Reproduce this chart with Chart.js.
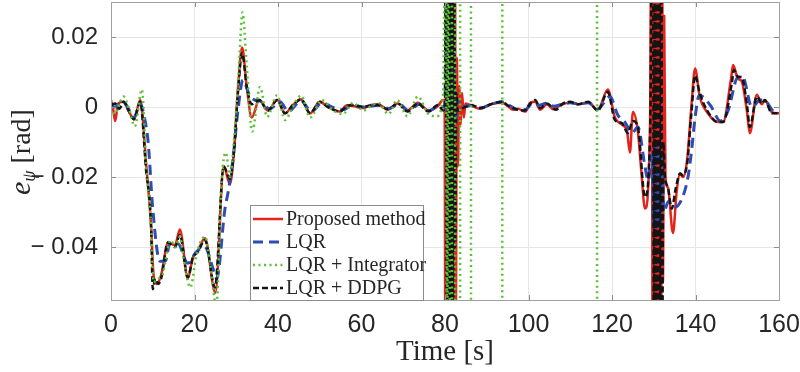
<!DOCTYPE html>
<html>
<head>
<meta charset="utf-8">
<script src="https://cdn.jsdelivr.net/npm/chart.js@4.4.0/dist/chart.umd.min.js"></script>
<style>
html, body { margin: 0; padding: 0; background: #fff; }
</style>
</head>
<body>
<canvas id="errChart" width="800" height="372"></canvas>
<script>
// axis ticks
const xTickValues = [0, 20, 40, 60, 80, 100, 120, 140, 160];
const xTickLabels = ['0', '20', '40', '60', '80', '100', '120', '140', '160'];
const yTickValues = [-0.04, -0.02, 0, 0.02];
const yTickLabels = ['\u2212 0.04', '\u2212 0.02', '0', '0.02'];

const seriesNames = ['Proposed method', 'LQR', 'LQR + Integrator', 'LQR + DDPG'];

// Proposed method (red)
const timeProposed = [
    0, 0.5, 1, 1.7, 3, 4.2, 5.5, 7, 8.4, 9.6, 10.2, 11, 12, 13.7, 15.3, 16.5, 18.4, 19.6, 20.8, 22.5,
    25, 27, 28.5, 29.5, 30.4, 31.4, 32.5, 33.7, 35.5, 37.6, 39.8, 41.7, 43.5, 45.5, 47.7, 50, 52, 54.8, 56.5, 58,
    60.4, 62, 64, 66.3, 68.7, 71, 73.5, 76, 78.3, 79.5, 79.9,
    80.1, 80.35, 80.6, 80.85, 81.1, 81.35, 81.6, 81.85, 82.1, 82.35, 82.6, 82.85, 83.1, 83.4, 83.7, 84.1, 84.5, 84.9,
    86.5, 88.4, 91, 93.7, 95, 96.3, 97.5, 99.2, 100.4, 101.6, 102.8, 104.4, 105.9, 107.5, 109.9, 111.9, 114.3, 116.6, 119, 120.7,
    122.4, 123.6, 124.3, 125, 126.2, 127, 127.9, 129.1,
    129.5, 129.75, 130, 130.25, 130.5, 130.75, 131, 131.25, 131.5, 131.75, 132, 132.2, 132.5, 132.8, 133.4, 134.6, 135.5, 136.3, 137, 138,
    139, 139.9, 141, 142.8, 145.4, 146.6, 148.5, 149, 150.2, 151, 152.3, 153, 154.7, 155.9, 156.6, 158.3, 160
];
const errProposed = [
    0.002, -0.0005, -0.004, 0.001, 0.0015, -0.001, -0.0035, 0.002, -0.016, -0.034, -0.048, -0.0505, -0.048, -0.0386, -0.0395, -0.035, -0.049, -0.043, -0.041, -0.0375,
    -0.053, -0.017, -0.022, -0.012, 0.005, 0.017, 0.006, -0.003, 0.002, -0.001, 0.002, -0.0018, 0.0005, 0.0022, -0.0018, 0.0015, 0, -0.0013, 0.0005, 0.0003,
    -0.0003, 0.0005, 0.0008, -0.0008, 0.001, -0.001, 0.0012, -0.001, 0.0003, 0.002, 0.002,
    -0.08, 0.09, -0.09, 0.09, -0.09, 0.09, -0.09, 0.08, -0.08, 0.06, -0.06, 0.014, -0.017, 0.006, -0.005, 0.004, -0.003, 0.001,
    0.0003, -0.0005, 0.0008, 0.0012, 0.0003, -0.0008, -0.0005, -0.0013, 0.0012, 0.0015, -0.0008, 0.0008, -0.0006, 0.0004, 0.0013, 0.0008, 0.0013, -0.0008, 0.005, -0.003,
    -0.005, -0.007, -0.013, -0.0014, -0.007, -0.018, -0.029, -0.006,
    0.08, -0.09, 0.09, -0.09, 0.09, -0.09, 0.09, -0.09, 0.09, -0.09, 0.07, -0.05, 0.026, -0.02, -0.023, -0.036, -0.024, -0.019, -0.02, -0.015,
    0, 0.011, 0.003, -0.0015, -0.0043, -0.0043, 0.008, 0.012, 0.008, 0.0075, -0.001, -0.0075, 0.0035, 0.0008, 0.002, -0.0015, -0.0018
];

// LQR (blue)
const timeLqr = [
    0, 1, 2, 3, 4.2, 5.5, 7, 8, 8.9, 10, 11.7, 13, 14.1, 16, 18.4, 20.4, 22.5, 24.4, 25.3, 27.3,
    28, 29.2, 30.4, 31.6, 33.3, 34.5, 36, 38, 40.5, 42.5, 45.5, 48, 50.5, 53, 55.5, 58, 60.5, 64, 66.5, 69,
    71.3, 73.8, 76.3, 78.5, 80,
    80.3, 80.6, 80.9, 81.2, 81.5, 81.8, 82.1, 82.4, 82.8, 84,
    86.5, 88.4, 91, 93.7, 95.5, 97.5, 99.5, 101, 102.5, 104.4, 106, 108, 110, 112, 114.3, 116.6, 119.5, 121.4, 123.1, 124.8,
    126.2, 127.9, 128.7, 129.6,
    129.9, 130.2, 130.5, 130.8, 131.1, 131.4, 131.7, 132, 132.4, 133.5, 135, 136.6, 138.2, 139.1, 139.9, 140.9, 143.5, 146, 147.8, 150.2,
    151.3, 153.5, 155.5, 157, 158.5, 160
];
const errLqr = [
    0.0005, 0, 0.001, 0.0015, -0.0005, -0.003, 0.001, -0.003, -0.01, -0.029, -0.044, -0.044, -0.039, -0.039, -0.0446, -0.0414, -0.04, -0.046, -0.049, -0.029,
    -0.0246, -0.015, -0.001, 0.0077, 0.003, 0.002, 0.0015, -0.0005, 0.0015, -0.0013, 0.0018, -0.0013, 0.0012, 0, -0.0008, 0.0005, 0, 0.0005, -0.0004, 0.0009,
    -0.001, 0.0008, -0.001, 0.0004, 0,
    0.05, -0.05, 0.05, -0.05, 0.04, -0.04, 0.02, -0.01, 0.002, 0,
    0.0005, -0.0003, 0.0008, 0.0015, 0.0004, -0.0008, -0.0006, 0.0012, 0.0005, 0.0011, 0.0002, 0.0008, 0.0012, 0.0009, 0.0012, -0.0005, 0.003, -0.0023, -0.0043, -0.0074,
    -0.0057, -0.017, -0.021, -0.013,
    -0.034, -0.01, -0.035, -0.01, -0.035, -0.012, -0.033, -0.015, -0.03, -0.027, -0.0286, -0.0266, -0.02, -0.012, -0.003, 0.0034, 0.0006, -0.004, -0.001, 0.0086,
    0.0086, 0, 0.002, 0.0015, -0.001, -0.0015
];

// LQR + Integrator (green)
const timeIntegrator = [
    0, 1, 2, 3, 4.2, 5.7, 7.4, 8.4, 9.6, 10.2, 11.3, 12.3, 13.5, 14.2, 15.5, 16.5, 17.5, 19, 20.5, 22.5,
    24, 25.2, 26.5, 27.5, 28.5, 29.5, 30.5, 31.5, 32.5, 33.8, 35.7, 37.4, 39.8, 41.7, 43.5, 45.5, 47.7, 50.5, 53, 55.5,
    58, 60.5, 62.5, 64, 66.5, 68.5, 71, 73.5, 76, 78, 79.5,
    80.2, 80.5, 80.8, 81.2, 81.65, 81.7, 82.4, 82.45, 83.6, 83.65, 86.2, 86.25, 93.7, 93.75, 116.4, 116.45, 160
];
const errIntegrator = [
    0, -0.002, 0.001, 0.003, 0, -0.0055, 0.005, -0.016, -0.034, -0.05, -0.049, -0.048, -0.041, -0.038, -0.04, -0.037, -0.044, -0.0515, -0.042, -0.037,
    -0.047, -0.057, -0.021, -0.013, -0.02, -0.009, 0.008, 0.027, 0.012, -0.007, 0.0057, -0.0028, 0.0034, -0.0037, 0, 0.0033, -0.003, 0.002, -0.0008, -0.002,
    0.0012, -0.001, 0.0005, 0.0012, -0.002, 0.002, -0.0026, 0.003, -0.002, -0.0026, 0.003,
    0.07, -0.09, 0.09, -0.09, -0.2, 0.2, 0.2, -0.2, -0.2, 0.2, 0.2, -0.2, -0.2, 0.2, 0.2, -0.2, -0.2
];

// LQR + DDPG (black)
const timeDdpg = [
    0, 1, 2, 3, 4.2, 5.5, 7, 8.4, 9.6, 10, 10.6, 11.3, 12, 13.7, 15.3, 16.5, 18.4, 19.6, 20.8, 22.5,
    24.9, 27, 28.5, 29.5, 30.4, 31.4, 32.5, 33.7, 35.5, 37.6, 39.8, 41.7, 43.5, 45.5, 47.7, 50, 52, 54.8, 56.5, 58,
    60.4, 62, 64, 66.3, 68.7, 71, 73.5, 76, 78.3, 79.6, 80,
    80.2, 80.45, 80.7, 80.95, 81.2, 81.45, 81.7, 81.95, 82.2, 82.45, 82.7, 83,
    84.8, 86.5, 88.4, 91, 93.7, 95, 96.3, 97.5, 99.2, 100.4, 101.6, 102.8, 104.4, 105.9, 106.5, 108.2, 109.9, 111.9, 114.3, 116.6,
    119, 120.7, 122.4, 123.8, 125, 126.2, 127.9, 129.1,
    129.8, 130.05, 130.3, 130.55, 130.8, 131.05, 131.3, 131.55, 131.8, 132.05, 132.3, 132.7, 133.4, 134.3, 135.3, 136.3, 137, 138, 139, 139.9,
    141, 142.8, 145.4, 146.6, 148.7, 149.2, 150.2, 151, 152.3, 153, 154.7, 155.9, 156.6, 158.3, 160
];
const errDdpg = [
    0.0005, 0.001, -0.0005, 0.0015, -0.001, -0.0035, 0.0015, -0.018, -0.034, -0.052, -0.049, -0.0505, -0.049, -0.0386, -0.04, -0.0365, -0.0486, -0.043, -0.0414, -0.038,
    -0.0515, -0.017, -0.0205, -0.012, 0.004, 0.0154, 0.006, 0.0008, 0.002, -0.001, 0.002, -0.0018, 0.0005, 0.0022, -0.0018, 0.0015, 0, -0.0013, 0.0003, 0.0006,
    0, 0.0004, 0.0006, -0.0006, 0.001, -0.0013, 0.001, -0.0013, 0.0006, -0.001, 0.001,
    0.07, -0.09, 0.09, -0.09, 0.09, -0.09, 0.08, -0.08, 0.06, -0.04, 0.004, -0.001,
    0, 0.0005, -0.0003, 0.0008, 0.0015, 0.0005, -0.0003, -0.0008, -0.001, 0.001, 0.002, -0.0003, 0.001, -0.0003, -0.0008, 0.001, 0.0015, 0.0008, 0.0015, -0.001,
    0.0043, -0.0037, -0.0046, -0.0074, -0.004, -0.0057, -0.0257, -0.0086,
    0.08, -0.09, 0.09, -0.09, 0.09, -0.09, 0.09, -0.08, 0.07, -0.07, -0.01, -0.02, -0.023, -0.029, -0.023, -0.019, -0.0195, -0.016, -0.002, 0.009,
    0.004, -0.001, -0.0043, -0.0043, 0.0068, 0.0106, 0.0086, 0.0086, 0.001, -0.0057, 0.003, 0.001, 0.002, -0.0018, -0.0017
];

function pairs(ts, vs) {
    return ts.map(function (t, i) { return { x: t, y: vs[i] }; });
}

// box, inner ticks and legend drawn like the matlab figure
const matlabFrame = {
    id: 'matlabFrame',
    afterDatasetsDraw: function (chart) {
        const ctx = chart.ctx;
        const a = chart.chartArea;
        const xs = chart.scales.x, ys = chart.scales.y;
        ctx.save();
        ctx.strokeStyle = '#8c8c8c';
        ctx.lineWidth = 1;
        ctx.beginPath();
        xTickValues.forEach(function (v) {
            const px = Math.round(xs.getPixelForValue(v)) + 0.5;
            ctx.moveTo(px, a.bottom); ctx.lineTo(px, a.bottom - 5);
            ctx.moveTo(px, a.top); ctx.lineTo(px, a.top + 5);
        });
        yTickValues.forEach(function (v) {
            const py = Math.round(ys.getPixelForValue(v)) + 0.5;
            ctx.moveTo(a.left, py); ctx.lineTo(a.left + 5, py);
            ctx.moveTo(a.right, py); ctx.lineTo(a.right - 5, py);
        });
        ctx.stroke();
        ctx.strokeStyle = '#a0a0a0';
        ctx.strokeRect(Math.round(a.left) + 0.5, Math.round(a.top) + 0.5,
            Math.round(a.right - a.left), Math.round(a.bottom - a.top));

        // legend
        const lx = 250, ly = 205, lw = 173, lh = 95;
        ctx.fillStyle = '#fff';
        ctx.fillRect(lx, ly, lw, lh);
        ctx.strokeStyle = '#8c8c8c';
        ctx.strokeRect(lx + 0.5, ly + 0.5, lw, lh);
        ctx.font = '20px "Liberation Serif", "Times New Roman", serif';
        ctx.textBaseline = 'middle';
        ctx.fillStyle = '#262626';
        chart.data.datasets.forEach(function (ds, i) {
            const ry = ly + 14 + i * 23;
            ctx.save();
            ctx.strokeStyle = ds.borderColor;
            ctx.lineWidth = ds.borderWidth;
            ctx.setLineDash(ds.borderDash || []);
            ctx.beginPath();
            ctx.moveTo(lx + 3, ry);
            ctx.lineTo(lx + 33, ry);
            ctx.stroke();
            ctx.restore();
            ctx.fillText(ds.label, lx + 36, ry + 1);
        });
        ctx.restore();
    },
    afterDraw: function (chart) {
        const ctx = chart.ctx;
        ctx.save();
        ctx.translate(30, 152);
        ctx.rotate(-Math.PI / 2);
        ctx.fillStyle = '#262626';
        ctx.textBaseline = 'alphabetic';
        ctx.textAlign = 'left';
        const fMain = 'italic 30px "Liberation Serif", serif';
        const fSub = 'italic 18px "Liberation Serif", serif';
        const fRad = '28px "Liberation Serif", serif';
        ctx.font = fMain; const wE = ctx.measureText('e').width;
        ctx.font = fSub; const wPsi = ctx.measureText('\u03c8').width;
        ctx.font = fRad; const wRad = ctx.measureText(' [rad]').width;
        let u = -(wE + wPsi + wRad) / 2;
        ctx.font = fMain; ctx.fillText('e', u, 0); u += wE;
        ctx.font = fSub; ctx.fillText('\u03c8', u, 5); u += wPsi;
        ctx.font = fRad; ctx.fillText(' [rad]', u, 0);
        ctx.restore();
    }
};

const ctx = document.getElementById('errChart').getContext('2d');
const errChart = new Chart(ctx, {
    type: 'line',
    data: {
        datasets: [{
            label: seriesNames[0],
            data: pairs(timeProposed, errProposed),
            borderColor: '#e3241c',
            borderWidth: 2.5,
            borderDash: [],
            order: 3
        }, {
            label: seriesNames[1],
            data: pairs(timeLqr, errLqr),
            borderColor: '#2f4cb2',
            borderWidth: 3,
            borderDash: [10, 6],
            order: 2
        }, {
            label: seriesNames[2],
            data: pairs(timeIntegrator, errIntegrator),
            borderColor: '#5bc236',
            borderWidth: 2.5,
            borderDash: [2, 3.5],
            order: 0
        }, {
            label: seriesNames[3],
            data: pairs(timeDdpg, errDdpg),
            borderColor: '#141414',
            borderWidth: 2.5,
            borderDash: [6, 3],
            order: 1
        }]
    },
    options: {
        responsive: false,
        animation: false,
        layout: { padding: { left: 0, right: 21, top: 2, bottom: 0 } },
        elements: {
            point: { radius: 0 },
            line: { cubicInterpolationMode: 'monotone', borderJoinStyle: 'round', fill: false }
        },
        plugins: {
            legend: { display: false },
            tooltip: { enabled: false }
        },
        scales: {
            x: {
                type: 'linear',
                min: 0,
                max: 160,
                afterBuildTicks: function (s) { s.ticks = xTickValues.map(function (v) { return { value: v }; }); },
                afterFit: function (s) { s.height = 72; s.paddingLeft = 0; s.paddingRight = 0; },
                grid: { color: '#e6e6e6', drawTicks: false },
                border: { display: false },
                ticks: {
                    padding: 10,
                    color: '#262626',
                    font: { family: '"Liberation Sans", Arial, sans-serif', size: 25 },
                    callback: function (v, i) { return xTickLabels[i]; }
                },
                title: {
                    display: true,
                    text: 'Time [s]',
                    color: '#262626',
                    font: { family: '"Liberation Serif", "Times New Roman", serif', size: 29 },
                    padding: { top: 0, bottom: 2 }
                }
            },
            y: {
                min: -0.0551,
                max: 0.03,
                afterBuildTicks: function (s) { s.ticks = yTickValues.map(function (v) { return { value: v }; }); },
                afterFit: function (s) { s.width = 111; s.paddingTop = 0; s.paddingBottom = 0; },
                grid: { color: '#e6e6e6', drawTicks: false },
                border: { display: false },
                ticks: {
                    padding: 13,
                    color: '#262626',
                    font: { family: '"Liberation Sans", Arial, sans-serif', size: 24 },
                    callback: function (v, i) { return yTickLabels[i]; }
                }
            }
        }
    },
    plugins: [matlabFrame]
});
</script>
</body>
</html>
